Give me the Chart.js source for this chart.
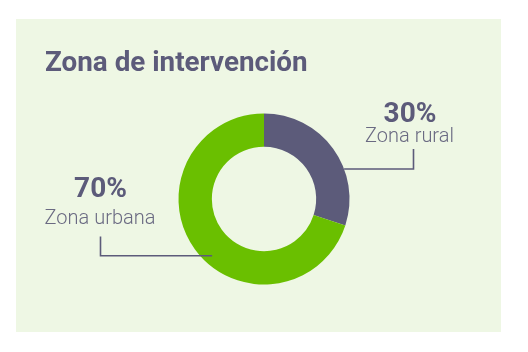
<!DOCTYPE html>
<html>
<head>
<meta charset="utf-8">
<script src="https://cdn.jsdelivr.net/npm/chart.js@4"></script>
<style>
html,body{margin:0;padding:0;background:#ffffff;}
#wrap{position:relative;width:528px;height:352px;}
canvas{display:block;}
</style>
</head>
<body>
<div id="wrap"><canvas id="c" width="528" height="352"></canvas></div>
<script>
const title = "Zona de intervención";
const categories = ["Zona rural", "Zona urbana"];
const values = [30, 70];
const valueLabels = ["30%", "70%"];
const colors = ["#5c5b7a", "#6abf00"];

const SLATE = "#5c5b7a";
const LABEL = "#6a6a82";
const PANEL = "#eef7e4";

const decor = {
  id: "decor",
  beforeDraw(chart) {
    const ctx = chart.ctx;
    ctx.save();
    ctx.fillStyle = "#ffffff";
    ctx.fillRect(0, 0, chart.width, chart.height);
    ctx.fillStyle = PANEL;
    ctx.fillRect(16, 19, 485, 313);
    ctx.fillStyle = SLATE;
    ctx.font = "bold 27.8px Roboto";
    ctx.textBaseline = "alphabetic";
    ctx.textAlign = "left";
    ctx.fillText(title, 45, 71);
    ctx.restore();
  },
  afterDraw(chart) {
    const ctx = chart.ctx;
    const arcs = chart.getDatasetMeta(0).data;
    const a0 = arcs[0];
    const cx = a0.x, cy = a0.y, R = a0.outerRadius;
    ctx.save();
    ctx.strokeStyle = SLATE;
    ctx.lineWidth = 1.6;
    // right leader (Zona rural)
    const ang0 = -20.5 * Math.PI / 180;
    const sx = cx + R * Math.cos(ang0), sy = cy + R * Math.sin(ang0);
    ctx.beginPath();
    ctx.moveTo(sx, sy);
    ctx.lineTo(413.5, sy);
    ctx.lineTo(413.5, 149);
    ctx.stroke();
    // left leader (Zona urbana)
    const ang1 = 132.4 * Math.PI / 180;
    const ex = cx + (R * 0.9) * Math.cos(ang1), ey = cy + (R * 0.9) * Math.sin(ang1);
    ctx.beginPath();
    ctx.moveTo(ex, ey);
    ctx.lineTo(100.5, ey);
    ctx.lineTo(100.5, 236.5);
    ctx.stroke();

    ctx.textAlign = "center";
    ctx.textBaseline = "alphabetic";
    ctx.fillStyle = SLATE;
    ctx.font = "bold 28px Roboto";
    ctx.fillText(valueLabels[0], 410, 121.5);
    ctx.fillText(valueLabels[1], 100.5, 196.5);
    ctx.fillStyle = LABEL;
    ctx.font = "300 20px Roboto";
    ctx.fillText(categories[0], 409.5, 141.5);
    ctx.fillText(categories[1], 100, 223.5);
    ctx.restore();
  }
};

new Chart(document.getElementById("c"), {
  type: "doughnut",
  data: {
    labels: categories,
    datasets: [{
      data: values,
      backgroundColor: colors,
      borderWidth: 0,
      hoverOffset: 0
    }]
  },
  options: {
    responsive: false,
    animation: false,
    cutout: "61%",
    layout: { padding: { left: 178.5, right: 178.5, top: 113.5, bottom: 67.5 } },
    plugins: { legend: { display: false }, tooltip: { enabled: false }, title: { display: false } }
  },
  plugins: [decor]
});
</script>
</body>
</html>
